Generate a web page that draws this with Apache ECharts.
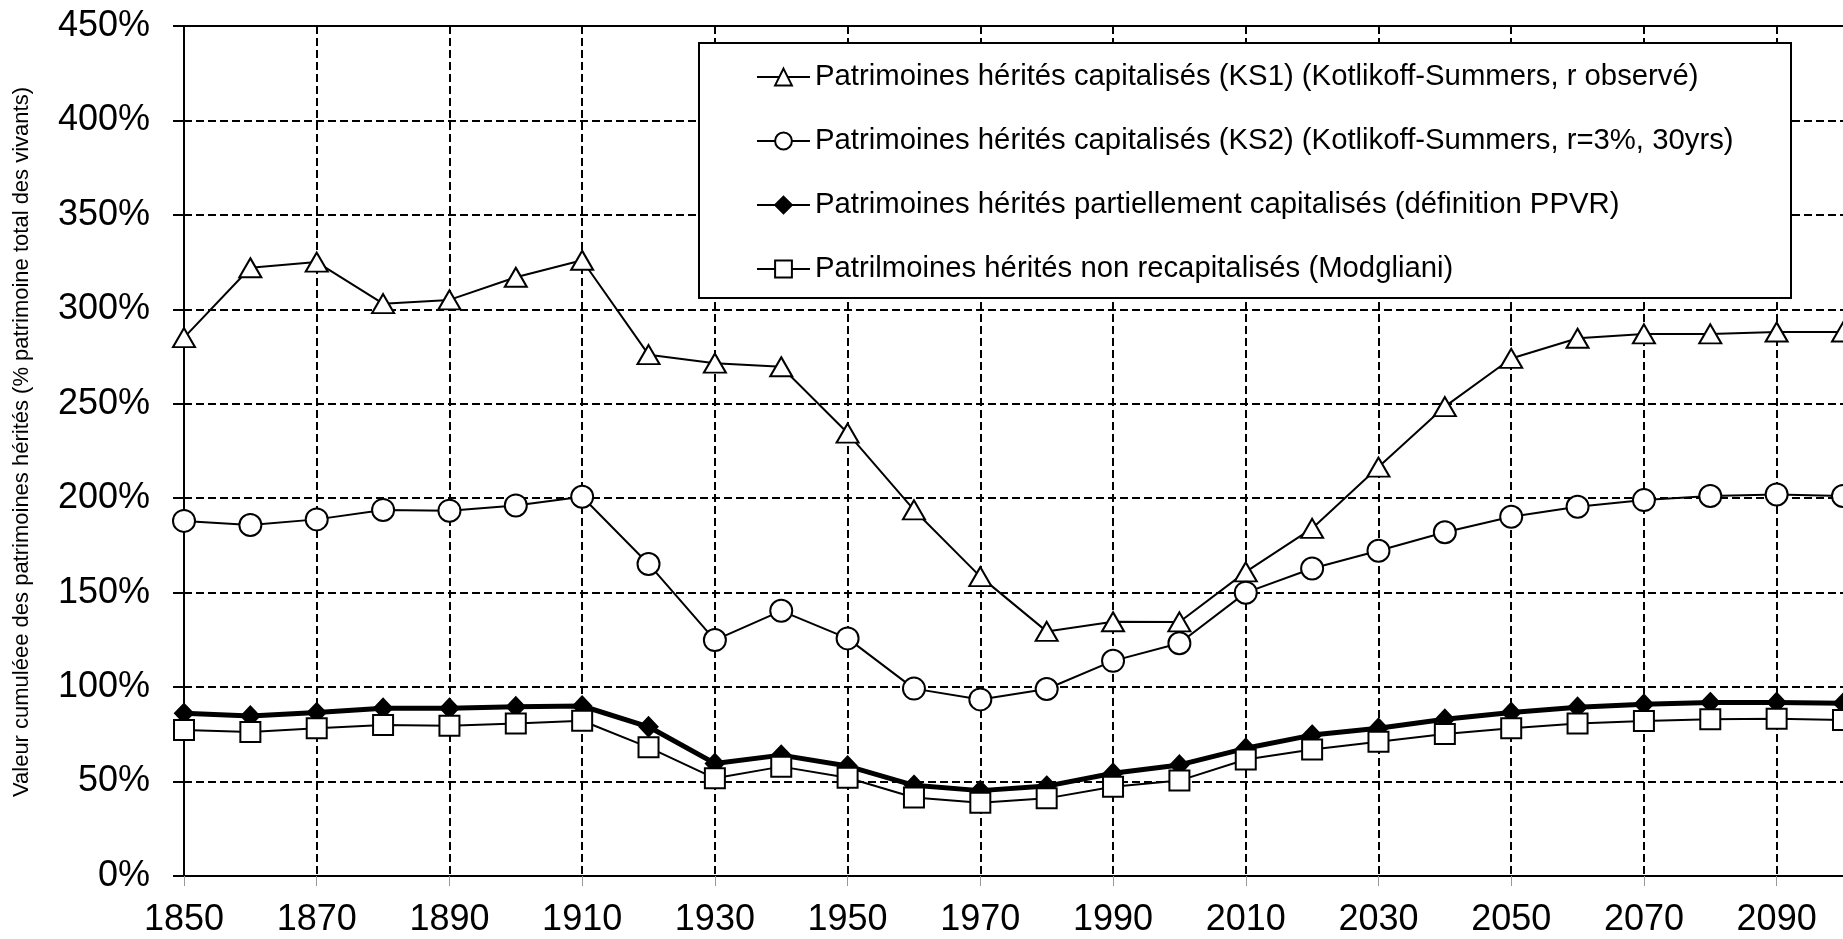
<!DOCTYPE html>
<html>
<head>
<meta charset="utf-8">
<script src="https://cdn.jsdelivr.net/npm/echarts@6/dist/echarts.min.js"></script>
<style>
html,body{margin:0;padding:0;background:#fff;}
#chart{width:1843px;height:939px;}
</style>
</head>
<body>
<div id="chart"></div>
<script>
var years = ['1850','1860','1870','1880','1890','1900','1910','1920','1930','1940','1950','1960','1970','1980','1990','2000','2010','2020','2030','2040','2050','2060','2070','2080','2090','2100'];
var seriesNames = [
  'Patrimoines hérités capitalisés (KS1) (Kotlikoff-Summers, r observé)',
  'Patrimoines hérités capitalisés (KS2) (Kotlikoff-Summers, r=3%, 30yrs)',
  'Patrimoines hérités partiellement capitalisés (définition PPVR)',
  'Patrilmoines hérités non recapitalisés (Modgliani)'
];
var ks1 = [285, 322, 325, 303, 305, 317, 326, 276, 271.5, 269.6, 234.5, 193.8, 158.5, 129.5, 134.6, 134.5, 161, 184, 216.5, 248.5, 274, 284.7, 287, 287, 288, 288];
var ks2 = [188, 185.8, 188.8, 193.8, 193.4, 196.2, 200.8, 165.2, 124.9, 140.4, 125.8, 99.2, 93.5, 99, 113.9, 123.2, 150, 162.8, 172.2, 182, 190.2, 195.5, 199, 201.2, 202, 201.2];
var ppvr = [86.1, 84.7, 86.5, 88.8, 88.8, 89.6, 90, 79, 59.6, 64, 58.2, 48, 45.2, 47.6, 54.4, 58.8, 67.6, 74.6, 78.2, 83, 86.6, 89.3, 90.9, 91.8, 91.9, 91.4];
var modig = [77.3, 76.3, 78.2, 79.9, 79.6, 80.8, 82.2, 68.1, 51.7, 57.9, 52, 41.6, 38.8, 41.1, 47.3, 50.5, 61.7, 67, 71.1, 75.2, 78.2, 80.8, 82, 83, 83.2, 82.6];
var yAxisTitle = 'Valeur cumuléee des patrimoines hérités (% patrimoine total des vivants)';

var FONT = '"Liberation Sans", Arial, sans-serif';
var chart = echarts.init(document.getElementById('chart'), null, {renderer: 'canvas'});

function mk(name, data, symbol, size, fill, lw) {
  return {
    name: name, type: 'line', data: data,
    symbol: symbol, symbolSize: size,
    itemStyle: {color: fill, borderColor: '#000', borderWidth: 2},
    lineStyle: {color: '#000', width: lw},
    emphasis: {disabled: true},
    z: 10
  };
}

chart.setOption({
  animation: false,
  backgroundColor: '#fff',
  textStyle: {fontFamily: FONT},
  grid: {left: 184, right: -2, top: 26, bottom: 63, containLabel: false},
  xAxis: [{
    type: 'category', data: years, boundaryGap: false,
    axisLine: {show: true, lineStyle: {color: '#000', width: 2}},
    axisTick: {show: true, interval: 1, length: 10, lineStyle: {color: '#999', width: 1}},
    axisLabel: {interval: 1, margin: 26, fontSize: 36, color: '#000', fontFamily: FONT},
    splitLine: {show: true, interval: 1, lineStyle: {color: '#000', width: 2, type: [8, 4]}}
  }, {
    type: 'category', data: years, boundaryGap: false, position: 'top',
    axisLine: {show: true, lineStyle: {color: '#000', width: 2}},
    axisTick: {show: false}, axisLabel: {show: false}, splitLine: {show: false}
  }],
  yAxis: {
    type: 'value', min: 0, max: 450, interval: 50,
    axisLine: {show: true, lineStyle: {color: '#000', width: 2}},
    axisTick: {show: true, length: 11, lineStyle: {color: '#000', width: 2}},
    axisLabel: {formatter: '{value}%', margin: 34, fontSize: 36, color: '#000', fontFamily: FONT},
    splitLine: {show: true, lineStyle: {color: '#000', width: 2, type: [8, 4]}}
  },
  graphic: [
    {type: 'rect', z: 50, shape: {x: 699, y: 43, width: 1092, height: 255},
     style: {fill: '#fff', stroke: '#000', lineWidth: 2}},
    {type: 'text', z: 50, x: 22, y: 442, rotation: Math.PI / 2,
     style: {text: yAxisTitle, fontSize: 22, fontFamily: FONT, fill: '#000',
             align: 'center', verticalAlign: 'middle', textAlign: 'center', textVerticalAlign: 'middle'}}
  ],
  legend: {
    z: 60, orient: 'vertical', left: 756, top: 60, padding: 0,
    itemWidth: 53, itemHeight: 21, itemGap: 30,
    selectedMode: false,
    textStyle: {fontSize: 29.3, color: '#000', fontFamily: FONT, lineHeight: 34},
    data: seriesNames
  },
  series: [
    mk(seriesNames[0], ks1, 'triangle', [22, 19], '#fff', 2),
    mk(seriesNames[1], ks2, 'circle', 22, '#fff', 2),
    mk(seriesNames[2], ppvr, 'diamond', [18, 19], '#000', 5),
    mk(seriesNames[3], modig, 'rect', 20, '#fff', 2)
  ]
});
</script>
</body>
</html>
